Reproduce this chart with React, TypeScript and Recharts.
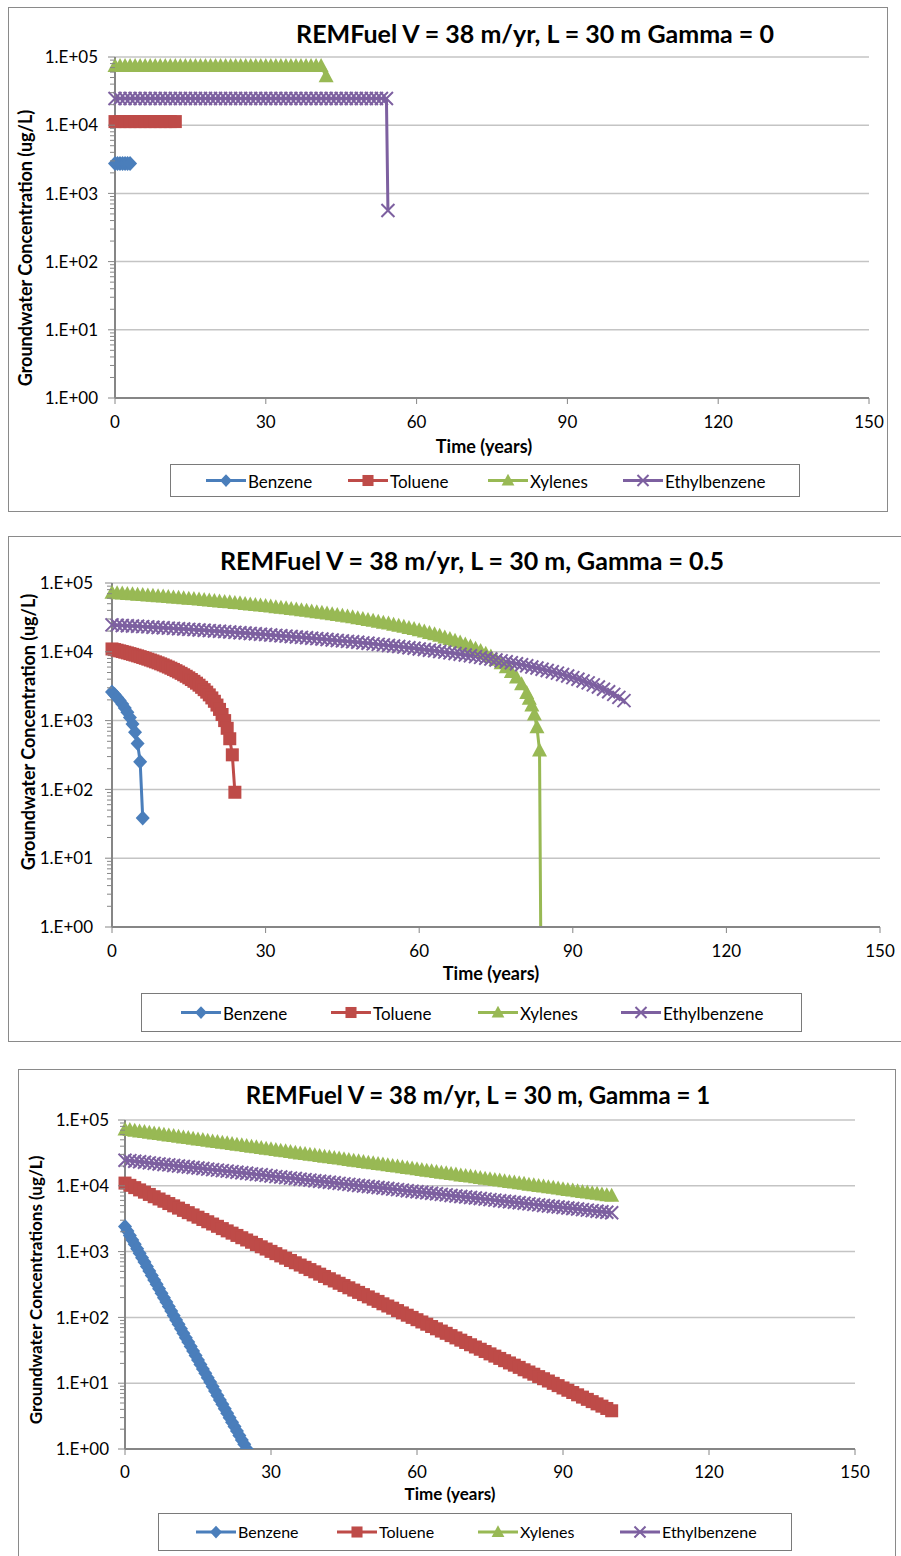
import React from "react";
import { CartesianGrid, Line, LineChart, XAxis, YAxis } from "recharts";

// Series shared by all three panels
const seriesNames = ["Benzene", "Toluene", "Xylenes", "Ethylbenzene"];
const seriesColors = ["#4a7ebb", "#be4b48", "#98b954", "#7d60a0"];
const seriesMarkers = ["diamond", "square", "triangle", "cross"];

const xTicks = [0, 30, 60, 90, 120, 150];
const yMajorTicks = [1, 10, 100, 1000, 10000, 100000];
const yMajorLabels = ["1.E+00", "1.E+01", "1.E+02", "1.E+03", "1.E+04", "1.E+05"];
const yMinorTicks = [
  2, 3, 4, 5, 6, 7, 8, 9, 20, 30, 40, 50, 60, 70, 80, 90, 200, 300, 400, 500, 600, 700, 800, 900,
  2000, 3000, 4000, 5000, 6000, 7000, 8000, 9000, 20000, 30000, 40000, 50000, 60000, 70000, 80000, 90000,
];

// time steps (years)
const yearsTo100 = [
  0, 1, 2, 3, 4, 5, 6, 7, 8, 9, 10, 11, 12, 13, 14, 15, 16, 17, 18, 19, 20, 21, 22, 23, 24, 25, 26, 27, 28, 29,
  30, 31, 32, 33, 34, 35, 36, 37, 38, 39, 40, 41, 42, 43, 44, 45, 46, 47, 48, 49, 50, 51, 52, 53, 54, 55, 56, 57,
  58, 59, 60, 61, 62, 63, 64, 65, 66, 67, 68, 69, 70, 71, 72, 73, 74, 75, 76, 77, 78, 79, 80, 81, 82, 83, 84, 85,
  86, 87, 88, 89, 90, 91, 92, 93, 94, 95, 96, 97, 98, 99, 100,
];
const halfYearsTo25 = [
  0, 0.5, 1, 1.5, 2, 2.5, 3, 3.5, 4, 4.5, 5, 5.5, 6, 6.5, 7, 7.5, 8, 8.5, 9, 9.5, 10, 10.5, 11, 11.5, 12, 12.5,
  13, 13.5, 14, 14.5, 15, 15.5, 16, 16.5, 17, 17.5, 18, 18.5, 19, 19.5, 20, 20.5, 21, 21.5, 22, 22.5, 23, 23.5,
  24, 24.5, 25,
];

// Gamma = 0
const g0BenzeneC = [2750, 2750, 2750, 2750, 2750, 2750, 2750];
const g0TolueneC = [11300, 11300, 11300, 11300, 11300, 11300, 11300, 11300, 11300, 11300, 11300, 11300, 11300];
const g0XylenesC = [
  74000, 74000, 74000, 74000, 74000, 74000, 74000, 74000, 74000, 74000, 74000, 74000, 74000, 74000,
  74000, 74000, 74000, 74000, 74000, 74000, 74000, 74000, 74000, 74000, 74000, 74000, 74000, 74000,
  74000, 74000, 74000, 74000, 74000, 74000, 74000, 74000, 74000, 74000, 74000, 74000, 74000, 74000, 52000,
];
const g0EthylbenzeneT = [...yearsTo100.slice(0, 55), 54.3];
const g0EthylbenzeneC = [
  24600, 24600, 24600, 24600, 24600, 24600, 24600, 24600, 24600, 24600, 24600, 24600, 24600, 24600,
  24600, 24600, 24600, 24600, 24600, 24600, 24600, 24600, 24600, 24600, 24600, 24600, 24600, 24600,
  24600, 24600, 24600, 24600, 24600, 24600, 24600, 24600, 24600, 24600, 24600, 24600, 24600, 24600,
  24600, 24600, 24600, 24600, 24600, 24600, 24600, 24600, 24600, 24600, 24600, 24600, 24600, 560,
];

// Gamma = 0.5
const g05BenzeneC = [2600, 2390, 2170, 1960, 1750, 1530, 1320, 1110, 892, 679, 465, 252, 38.5];
const g05TolueneC = [
  11000, 10770, 10550, 10320, 10090, 9864, 9636, 9409, 9182, 8955, 8727, 8500, 8273, 8045, 7818, 7591,
  7364, 7136, 6909, 6682, 6455, 6227, 6000, 5773, 5545, 5318, 5091, 4864, 4636, 4409, 4182, 3955, 3727,
  3500, 3273, 3045, 2818, 2591, 2364, 2136, 1909, 1682, 1455, 1227, 1000, 773, 545, 318, 90.9,
];
const g05XylenesT = [...yearsTo100.slice(0, 82), 81.5, 82, 82.5, 83, 83.5, 84];
const g05XylenesC = [
  72000, 71100, 70300, 69400, 68600, 67700, 66900, 66000, 65100, 64300, 63400, 62600, 61700, 60800,
  60000, 59100, 58300, 57400, 56600, 55700, 54800, 54000, 53100, 52300, 51400, 50600, 49700, 48800,
  48000, 47100, 46300, 45400, 44500, 43700, 42800, 42000, 41100, 40300, 39400, 38500, 37700, 36800,
  36000, 35100, 34300, 33400, 32500, 31700, 30800, 30000, 29100, 28200, 27400, 26500, 25700, 24800,
  24000, 23100, 22200, 21400, 20500, 19700, 18800, 18000, 17100, 16200, 15400, 14500, 13700, 12800,
  11950, 11090, 10230, 9380, 8520, 7660, 6800, 5950, 5090, 4230, 3370, 2510,
  2085, 1656, 1227, 798, 369, 0.001,
];
const g05EthylbenzeneC = [
  24600, 24370, 24150, 23920, 23690, 23470, 23240, 23020, 22790, 22560, 22340, 22110, 21880, 21660,
  21430, 21200, 20980, 20750, 20520, 20300, 20070, 19840, 19620, 19390, 19160, 18940, 18710, 18490,
  18260, 18030, 17810, 17580, 17350, 17130, 16900, 16670, 16450, 16220, 15990, 15770, 15540, 15310,
  15090, 14860, 14630, 14410, 14180, 13960, 13730, 13500, 13280, 13050, 12820, 12600, 12370, 12140,
  11920, 11690, 11460, 11240, 11010, 10780, 10560, 10330, 10100, 9878, 9651, 9425, 9198, 8972, 8745,
  8519, 8292, 8066, 7839, 7613, 7386, 7160, 6933, 6707, 6480, 6254, 6027, 5801, 5574, 5348, 5121,
  4895, 4668, 4442, 4215, 3989, 3762, 3536, 3309, 3083, 2856, 2630, 2403, 2177, 1950,
];

// Gamma = 1
const g1BenzeneC = [
  2400, 2054, 1758, 1505, 1288, 1103, 944, 808, 692, 592, 507, 434, 371, 318, 272, 233, 199, 171, 146,
  125, 107, 91.6, 78.4, 67.1, 57.5, 49.2, 42.1, 36.0, 30.8, 26.4, 22.6, 19.3, 16.5, 14.2, 12.1, 10.4,
  8.88, 7.6, 6.51, 5.57, 4.77, 4.08, 3.49, 2.99, 2.56, 2.19, 1.87, 1.6, 1.37, 1.18, 1.01,
];
const g1TolueneC = [
  11000, 10160, 9382, 8664, 8001, 7389, 6823, 6302, 5820, 5375, 4960, 4581, 4230, 3907, 3608, 3332,
  3077, 2842, 2624, 2423, 2236, 2065, 1907, 1761, 1626, 1502, 1387, 1281, 1183, 1093, 1008, 931, 860,
  794, 733, 677, 625, 577, 533, 493, 454, 419, 387, 358, 330, 305, 282, 260, 240, 222, 205, 189, 175,
  161, 149, 138, 127, 117, 108, 100, 92.3, 85.2, 78.7, 72.7, 67.1, 62.0, 57.3, 52.9, 48.8, 45.1, 41.6,
  38.4, 35.5, 32.8, 30.3, 27.9, 25.8, 23.8, 22.0, 20.3, 18.8, 17.4, 16.0, 14.8, 13.7, 12.6, 11.7, 10.8,
  9.95, 9.19, 8.46, 7.81, 7.22, 6.66, 6.15, 5.68, 5.25, 4.85, 4.48, 4.13, 3.81,
];
const g1XylenesC = [
  71900, 70200, 68600, 67100, 65500, 64000, 62500, 61100, 59700, 58300, 57000, 55700, 54400, 53200,
  51900, 50700, 49600, 48400, 47300, 46200, 45200, 44200, 43100, 42200, 41200, 40200, 39300, 38400,
  37500, 36700, 35800, 35000, 34200, 33400, 32600, 31900, 31100, 30400, 29700, 29000, 28400, 27700,
  27100, 26500, 25900, 25300, 24700, 24100, 23600, 23000, 22500, 22000, 21500, 21000, 20500, 20000,
  19600, 19100, 18700, 18300, 17800, 17400, 17000, 16600, 16200, 15800, 15500, 15100, 14800, 14400,
  14100, 13800, 13500, 13100, 12800, 12600, 12300, 12000, 11700, 11400, 11200, 10900, 10700, 10400,
  10200, 9970, 9740, 9520, 9300, 9090, 8870, 8670, 8470, 8270, 8080, 7900, 7720, 7540, 7360, 7200, 7030,
];
const g1EthylbenzeneC = [
  24500, 24100, 23600, 23200, 22800, 22300, 21900, 21500, 21100, 20800, 20400, 20000, 19700, 19300,
  19000, 18600, 18300, 17900, 17600, 17300, 17000, 16700, 16400, 16100, 15800, 15500, 15200, 14900,
  14700, 14400, 14100, 13800, 13600, 13300, 13100, 12900, 12600, 12400, 12200, 11900, 11700, 11500,
  11300, 11100, 10900, 10700, 10500, 10300, 10100, 9910, 9770, 9590, 9420, 9240, 9080, 8910, 8750,
  8590, 8430, 8280, 8130, 7980, 7830, 7690, 7550, 7410, 7280, 7140, 7010, 6890, 6760, 6640, 6520,
  6400, 6280, 6170, 6050, 5940, 5830, 5730, 5620, 5520, 5420, 5320, 5220, 5130, 5030, 4940, 4850,
  4760, 4680, 4590, 4510, 4430, 4340, 4270, 4190, 4110, 4040, 3960, 3890,
];

const AXIS_GRAY = "#868686";
const GRID_GRAY = "#c4c4c4";
const FONT = "Lato, 'Open Sans', sans-serif";
const X_AXIS_H = 30;

const toPoints = (times: number[], values: number[]) => values.map((c, i) => ({ t: times[i], c }));

function Marker({ kind, x, y, color, s = 1 }: any) {
  if (kind === "diamond")
    return <polygon points={`${x},${y - 7.5 * s} ${x + 7 * s},${y} ${x},${y + 7.5 * s} ${x - 7 * s},${y}`} fill={color} />;
  if (kind === "square") return <rect x={x - 6.5 * s} y={y - 6.5 * s} width={13 * s} height={13 * s} fill={color} />;
  if (kind === "triangle")
    return <polygon points={`${x},${y - 8 * s} ${x + 7.5 * s},${y + 6 * s} ${x - 7.5 * s},${y + 6 * s}`} fill={color} />;
  return (
    <path
      d={`M${x - 6.5 * s},${y - 6.5 * s}L${x + 6.5 * s},${y + 6.5 * s}M${x - 6.5 * s},${y + 6.5 * s}L${x + 6.5 * s},${y - 6.5 * s}`}
      stroke={color}
      strokeWidth={2}
      fill="none"
    />
  );
}

const dotFor = (kind: string, color: string) => (props: any) => {
  const { cx, cy, index } = props;
  if (cx == null || cy == null) return <g key={index} />;
  return (
    <g key={index}>
      <Marker kind={kind} x={cx} y={cy} color={color} />
    </g>
  );
};

function YTick(props: any) {
  const { x, y, payload, fontSize, labelGap } = props;
  const i = yMajorTicks.indexOf(payload.value);
  const major = i >= 0;
  return (
    <g>
      <line x1={x - (major ? 7 : 5)} x2={x} y1={y} y2={y} stroke={AXIS_GRAY} strokeWidth={1} />
      {major && (
        <text x={x - labelGap} y={y} dy="0.36em" textAnchor="end" fontSize={fontSize} fontFamily={FONT} fill="#000">
          {yMajorLabels[i]}
        </text>
      )}
    </g>
  );
}

type Box = { left: number; top: number; width: number; height: number };
type PanelSpec = {
  box: Box;
  chart: Box;
  plot: { left: number; top: number; right: number; bottom: number };
  title: string;
  titleAt: [number, number];
  titleSize: number;
  yTitle: string;
  yTitleAt: [number, number];
  xTitleAt: [number, number];
  axisTitleSize: number;
  tickSize: number;
  yLabelGap: number;
  xLabelMargin: number;
  legend: Box;
  legendX: number[];
  legendSize: number;
  series: { times: number[]; values: number[] }[];
};

const panels: PanelSpec[] = [
  {
    box: { left: 8, top: 7, width: 880, height: 505 },
    chart: { left: 8, top: 7, width: 880, height: 505 },
    plot: { left: 115, top: 57, right: 869, bottom: 398 },
    title: "REMFuel V = 38 m/yr, L = 30 m Gamma = 0",
    titleAt: [535, 33],
    titleSize: 25,
    yTitle: "Groundwater Concentration (ug/L)",
    yTitleAt: [25, 248],
    xTitleAt: [484, 446],
    axisTitleSize: 18,
    tickSize: 17,
    yLabelGap: 17,
    xLabelMargin: 12,
    legend: { left: 170, top: 464, width: 630, height: 33 },
    legendX: [206, 348, 488, 623],
    legendSize: 17,
    series: [
      { times: halfYearsTo25, values: g0BenzeneC },
      { times: yearsTo100, values: g0TolueneC },
      { times: yearsTo100, values: g0XylenesC },
      { times: g0EthylbenzeneT, values: g0EthylbenzeneC },
    ],
  },
  {
    box: { left: 8, top: 536, width: 900, height: 506 },
    chart: { left: 8, top: 536, width: 893, height: 506 },
    plot: { left: 112, top: 583, right: 880, bottom: 927 },
    title: "REMFuel V = 38 m/yr, L = 30 m, Gamma = 0.5",
    titleAt: [472, 560],
    titleSize: 25,
    yTitle: "Groundwater Concentration (ug/L)",
    yTitleAt: [28, 732],
    xTitleAt: [491, 973],
    axisTitleSize: 18,
    tickSize: 17,
    yLabelGap: 19,
    xLabelMargin: 12,
    legend: { left: 141, top: 993, width: 661, height: 39 },
    legendX: [181, 331, 478, 621],
    legendSize: 17,
    series: [
      { times: halfYearsTo25, values: g05BenzeneC },
      { times: halfYearsTo25, values: g05TolueneC },
      { times: g05XylenesT, values: g05XylenesC },
      { times: yearsTo100, values: g05EthylbenzeneC },
    ],
  },
  {
    box: { left: 18, top: 1069, width: 878, height: 500 },
    chart: { left: 18, top: 1069, width: 878, height: 487 },
    plot: { left: 125, top: 1120, right: 855, bottom: 1449 },
    title: "REMFuel V = 38 m/yr, L = 30 m, Gamma = 1",
    titleAt: [478, 1095],
    titleSize: 24,
    yTitle: "Groundwater Concentrations (ug/L)",
    yTitleAt: [35, 1290],
    xTitleAt: [450, 1493],
    axisTitleSize: 17,
    tickSize: 17,
    yLabelGap: 16,
    xLabelMargin: 11,
    legend: { left: 158, top: 1513, width: 634, height: 38 },
    legendX: [196, 337, 478, 620],
    legendSize: 16,
    series: [
      { times: halfYearsTo25, values: g1BenzeneC },
      { times: yearsTo100, values: g1TolueneC },
      { times: yearsTo100, values: g1XylenesC },
      { times: yearsTo100, values: g1EthylbenzeneC },
    ],
  },
];

const centered = (x: number, y: number, extra: React.CSSProperties = {}): React.CSSProperties => ({
  position: "absolute",
  left: x,
  top: y,
  transform: "translate(-50%, -50%)",
  whiteSpace: "nowrap",
  lineHeight: 1,
  fontFamily: FONT,
  color: "#000",
  ...extra,
});

function Panel({ p }: { p: PanelSpec }) {
  const { chart, plot } = p;
  const yAxisW = plot.left - chart.left;
  const margin = {
    top: plot.top - chart.top,
    right: chart.left + chart.width - plot.right,
    left: 0,
    bottom: chart.top + chart.height - plot.bottom - X_AXIS_H,
  };
  return (
    <>
      <div
        style={{
          position: "absolute",
          left: p.box.left,
          top: p.box.top,
          width: p.box.width,
          height: p.box.height,
          border: "1px solid #8a8a8a",
          boxSizing: "border-box",
          background: "#fff",
        }}
      />
      <div style={{ position: "absolute", left: chart.left, top: chart.top }}>
        <LineChart width={chart.width} height={chart.height} margin={margin}>
          <CartesianGrid vertical={false} horizontalValues={yMajorTicks} stroke={GRID_GRAY} strokeWidth={1.5} />
          <XAxis
            dataKey="t"
            type="number"
            domain={[0, 150]}
            ticks={xTicks}
            interval={0}
            height={X_AXIS_H}
            axisLine={{ stroke: AXIS_GRAY, strokeWidth: 2 }}
            tickLine={{ stroke: AXIS_GRAY }}
            tickSize={6}
            tickMargin={p.xLabelMargin}
            tick={{ fill: "#000", fontSize: p.tickSize, fontFamily: FONT }}
            allowDuplicatedCategory={false}
          />
          <YAxis
            type="number"
            scale="log"
            domain={[1, 100000]}
            allowDataOverflow
            ticks={[...yMajorTicks, ...yMinorTicks]}
            interval={0}
            width={yAxisW}
            axisLine={{ stroke: AXIS_GRAY, strokeWidth: 2 }}
            tickLine={false}
            tickSize={0}
            tickMargin={0}
            tick={(tp: any) => <YTick {...tp} fontSize={p.tickSize} labelGap={p.yLabelGap} />}
          />
          {p.series.map((s, i) => (
            <Line
              key={seriesNames[i]}
              name={seriesNames[i]}
              data={toPoints(s.times, s.values)}
              dataKey="c"
              type="linear"
              stroke={seriesColors[i]}
              strokeWidth={3}
              dot={dotFor(seriesMarkers[i], seriesColors[i])}
              activeDot={false}
              isAnimationActive={false}
            />
          ))}
        </LineChart>
      </div>
      <div style={centered(p.titleAt[0], p.titleAt[1], { fontSize: p.titleSize, fontWeight: 700 })}>{p.title}</div>
      <div
        style={centered(p.yTitleAt[0], p.yTitleAt[1], {
          fontSize: p.axisTitleSize,
          fontWeight: 700,
          transform: "translate(-50%, -50%) rotate(-90deg)",
        })}
      >
        {p.yTitle}
      </div>
      <div style={centered(p.xTitleAt[0], p.xTitleAt[1], { fontSize: p.axisTitleSize, fontWeight: 700 })}>
        Time (years)
      </div>
      <div
        style={{
          position: "absolute",
          left: p.legend.left,
          top: p.legend.top,
          width: p.legend.width,
          height: p.legend.height,
          border: "1px solid #7a7a7a",
          boxSizing: "border-box",
        }}
      />
      {seriesNames.map((name, i) => (
        <div
          key={name}
          style={{
            position: "absolute",
            left: p.legendX[i],
            top: p.legend.top + p.legend.height / 2,
            transform: "translateY(-50%)",
            display: "flex",
            alignItems: "center",
            fontFamily: FONT,
            fontSize: p.legendSize,
            lineHeight: 1,
            whiteSpace: "nowrap",
          }}
        >
          <svg width={40} height={16} style={{ display: "block" }}>
            <line x1={0} x2={40} y1={8} y2={8} stroke={seriesColors[i]} strokeWidth={3} />
            <Marker kind={seriesMarkers[i]} x={20} y={8} color={seriesColors[i]} s={0.85} />
          </svg>
          <span style={{ marginLeft: 2 }}>{name}</span>
        </div>
      ))}
    </>
  );
}

export default function App() {
  return (
    <div style={{ position: "absolute", left: 0, top: 0, width: 901, height: 1556, overflow: "hidden", background: "#fff" }}>
      {panels.map((p, i) => (
        <Panel key={i} p={p} />
      ))}
    </div>
  );
}
